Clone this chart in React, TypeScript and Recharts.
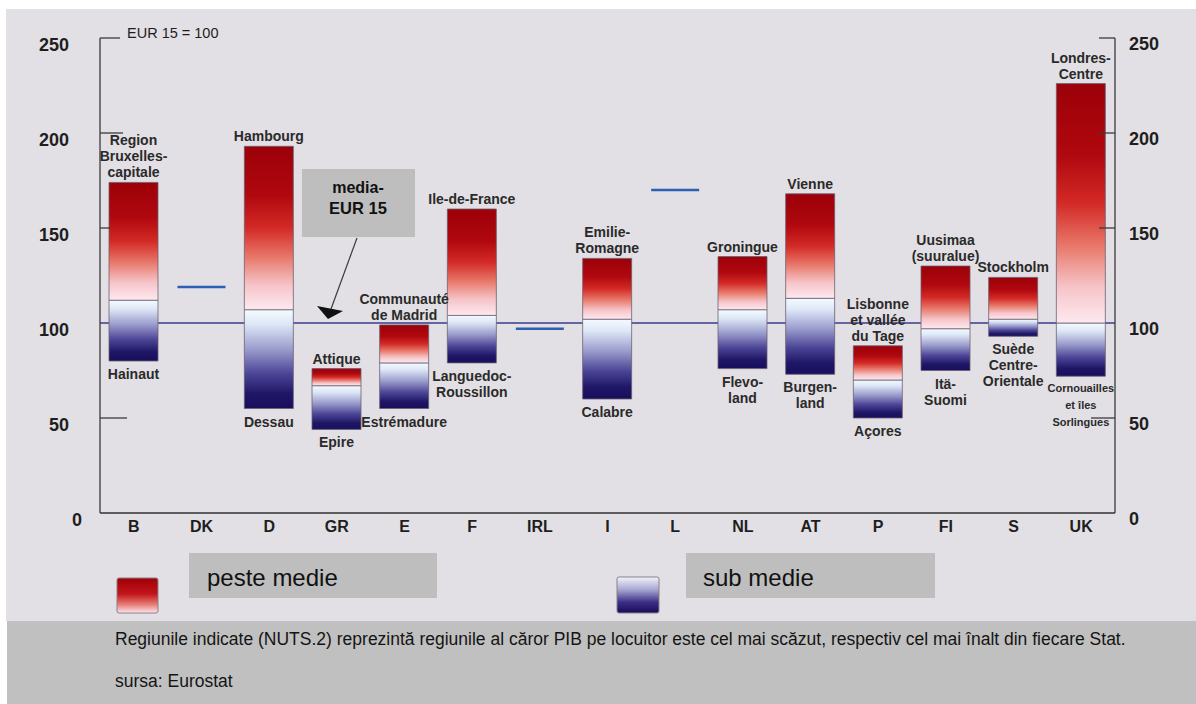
import React from 'react';
import { ComposedChart, Bar, XAxis, YAxis, ReferenceLine, Scatter, LabelList } from 'recharts';

// PIB pe locuitor, EUR 15 = 100
const countries = ['B', 'DK', 'D', 'GR', 'E', 'F', 'IRL', 'I', 'L', 'NL', 'AT', 'P', 'FI', 'S', 'UK'];
const highValues: (number | null)[] = [174, null, 193, 76, 99, 160, null, 134, null, 135, 168, 88, 130, 124, 226];
const nationalValues = [112, 119, 107, 67, 79, 104, 97, 102, 170, 107, 113, 70, 97, 102, 100];
const lowValues: (number | null)[] = [80, null, 55, 44, 55, 79, null, 60, null, 76, 73, 50, 75, 93, 72];
const highRegions = [
  'Region\nBruxelles-\ncapitale', '', 'Hambourg', 'Attique', 'Communauté\nde Madrid', 'Ile-de-France', '',
  'Emilie-\nRomagne', '', 'Groningue', 'Vienne', 'Lisbonne\net vallée\ndu Tage', 'Uusimaa\n(suuralue)',
  'Stockholm', 'Londres-\nCentre',
];
const lowRegions = [
  'Hainaut', '', 'Dessau', 'Epire', 'Estrémadure', 'Languedoc-\nRoussillon', '', 'Calabre', '',
  'Flevo-\nland', 'Burgen-\nland', 'Açores', 'Itä-\nSuomi', 'Suède\nCentre-\nOrientale',
  'Cornouailles\net îles\nSorlingues',
];
const yTicks = [0, 50, 100, 150, 200, 250];

const rows = countries.map((country, i) => {
  const hi = highValues[i];
  const lo = lowValues[i];
  const mid = nationalValues[i];
  const split = hi != null && lo != null;
  return {
    country,
    base: split ? lo : 0,
    below: split ? mid - (lo as number) : 0,
    above: split ? (hi as number) - mid : 0,
    single: split ? null : mid,
    hiName: highRegions[i],
    loName: lowRegions[i],
  };
});

const FONT = '"Liberation Sans", Arial, Helvetica, sans-serif';
const leftTickLen: Record<number, number> = { 250: 20, 200: 23, 150: 10, 50: 27 };
const rightTickLen: Record<number, number> = { 250: 16, 200: 16, 150: 16, 50: 24 };

const LeftTick = (props: any) => {
  const { x, y, payload } = props;
  const len = leftTickLen[payload.value] || 0;
  const gap = payload.value === 0 ? 18 : 31;
  return (
    <g>
      {len > 0 && <line x1={x} x2={x + len} y1={y} y2={y} stroke="#3a3a3a" strokeWidth={1.3} />}
      <text x={x - gap} y={y + 13} textAnchor="end" fontSize={18} fontWeight="bold" fill="#1e1e1e" fontFamily={FONT}>
        {payload.value}
      </text>
    </g>
  );
};

const RightTick = (props: any) => {
  const { x, y, payload } = props;
  const len = rightTickLen[payload.value] || 0;
  return (
    <g>
      {len > 0 && <line x1={x} x2={x - len} y1={y} y2={y} stroke="#3a3a3a" strokeWidth={1.3} />}
      <text x={x + 14} y={y + 12} textAnchor="start" fontSize={18} fontWeight="bold" fill="#1e1e1e" fontFamily={FONT}>
        {payload.value}
      </text>
    </g>
  );
};

const CountryTick = (props: any) => {
  const { x, y, payload } = props;
  return (
    <text x={x} y={y + 17} textAnchor="middle" fontSize={16} fontWeight="bold" fill="#1e1e1e" fontFamily={FONT}>
      {payload.value}
    </text>
  );
};

const readBox = (props: any) => {
  const vb = props.viewBox && props.viewBox.width != null ? props.viewBox : props;
  return { x: Number(vb.x), y: Number(vb.y), width: Number(vb.width), height: Number(vb.height) };
};

const TopLabel = (props: any) => {
  const { value } = props;
  if (!value) return null;
  const { x, y, width } = readBox(props);
  const lines = String(value).split('\n');
  const cx = x + width / 2;
  return (
    <text textAnchor="middle" fontSize={14} fontWeight="bold" fill="#2a2a2a" fontFamily={FONT}>
      {lines.map((l, i) => (
        <tspan key={i} x={cx} y={y - 5 - (lines.length - 1 - i) * 16}>
          {l}
        </tspan>
      ))}
    </text>
  );
};

const BottomLabel = (props: any) => {
  const { value } = props;
  if (!value) return null;
  const { x, y, width, height } = readBox(props);
  const lines = String(value).split('\n');
  const small = String(value).startsWith('Cornouailles');
  const cx = x + width / 2;
  const bottom = y + height;
  return (
    <text textAnchor="middle" fontSize={small ? 11 : 14} fontWeight="bold" fill="#2a2a2a" fontFamily={FONT}>
      {lines.map((l, i) => (
        <tspan key={i} x={cx} y={bottom + (small ? 16 : 18) + i * (small ? 17 : 16)}>
          {l}
        </tspan>
      ))}
    </text>
  );
};

const Dash = (props: any) => {
  const { cx, cy, payload } = props;
  if (!payload || payload.single == null || !Number.isFinite(cx) || !Number.isFinite(cy)) return null;
  return <line x1={cx - 24} x2={cx + 24} y1={cy} y2={cy} stroke="#2f5fb4" strokeWidth={2.5} />;
};

export default function App() {
  return (
    <div style={{ position: 'absolute', left: 0, top: 0, width: 1196, height: 704, background: '#ffffff', overflow: 'hidden' }}>
      <div style={{ position: 'absolute', left: 6, top: 9, width: 1190, height: 612, background: '#e2e0e4' }} />
      <div style={{ position: 'absolute', left: 0, top: 0 }}>
        <ComposedChart width={1196} height={621} data={rows} margin={{ top: 38, right: 0, bottom: 78, left: 0 }}>
          <defs>
            <linearGradient id="aboveFill" x1="0" y1="0" x2="0" y2="1">
              <stop offset="0%" stopColor="#9c0008" />
              <stop offset="30%" stopColor="#b0080f" />
              <stop offset="50%" stopColor="#d32a26" />
              <stop offset="68%" stopColor="#e8786a" />
              <stop offset="85%" stopColor="#f6c4c8" />
              <stop offset="100%" stopColor="#fde9f0" />
            </linearGradient>
            <linearGradient id="belowFill" x1="0" y1="0" x2="0" y2="1">
              <stop offset="0%" stopColor="#f4fbff" />
              <stop offset="15%" stopColor="#dde6f6" />
              <stop offset="40%" stopColor="#9a9ccc" />
              <stop offset="65%" stopColor="#4c4496" />
              <stop offset="85%" stopColor="#1f1766" />
              <stop offset="100%" stopColor="#170f5c" />
            </linearGradient>
          </defs>
          <XAxis
            dataKey="country"
            height={30}
            tick={<CountryTick />}
            tickLine={false}
            tickSize={0}
            axisLine={{ stroke: '#333333', strokeWidth: 1.5 }}
            interval={0}
          />
          <YAxis
            yAxisId="left"
            width={100}
            domain={[0, 250]}
            ticks={yTicks}
            tick={<LeftTick />}
            tickLine={false}
            tickSize={0}
            tickMargin={0}
            axisLine={{ stroke: '#3a3a3a', strokeWidth: 1.3 }}
          />
          <YAxis
            yAxisId="right"
            orientation="right"
            width={81}
            domain={[0, 250]}
            ticks={yTicks}
            tick={<RightTick />}
            tickLine={false}
            tickSize={0}
            tickMargin={0}
            axisLine={{ stroke: '#3a3a3a', strokeWidth: 1.3 }}
          />
          <ReferenceLine yAxisId="left" y={100} stroke="#3b3b8e" strokeWidth={1.5} zIndex={250} />
          <Bar yAxisId="left" dataKey="base" stackId="range" fill="transparent" barSize={49} isAnimationActive={false} />
          <Bar
            yAxisId="left"
            dataKey="below"
            stackId="range"
            fill="url(#belowFill)"
            stroke="#6a5f72"
            strokeWidth={0.8}
            barSize={49}
            isAnimationActive={false}
          >
            <LabelList dataKey="loName" content={<BottomLabel />} />
          </Bar>
          <Bar
            yAxisId="left"
            dataKey="above"
            stackId="range"
            fill="url(#aboveFill)"
            stroke="#6a5f72"
            strokeWidth={0.8}
            barSize={49}
            isAnimationActive={false}
          >
            <LabelList dataKey="hiName" content={<TopLabel />} />
          </Bar>
          <Scatter yAxisId="right" dataKey="single" shape={<Dash />} isAnimationActive={false} />
        </ComposedChart>
      </div>
      <svg
        width={1196}
        height={704}
        style={{ position: 'absolute', left: 0, top: 0, pointerEvents: 'none' }}
        fontFamily={FONT}
      >
        <defs>
          <linearGradient id="legendAbove" x1="0" y1="0" x2="0" y2="1">
            <stop offset="0%" stopColor="#a00008" />
            <stop offset="45%" stopColor="#c0141a" />
            <stop offset="75%" stopColor="#e67a72" />
            <stop offset="100%" stopColor="#fde6ee" />
          </linearGradient>
          <linearGradient id="legendBelow" x1="0" y1="0" x2="0" y2="1">
            <stop offset="0%" stopColor="#f2f4fc" />
            <stop offset="35%" stopColor="#a8a6d2" />
            <stop offset="70%" stopColor="#3c2e86" />
            <stop offset="100%" stopColor="#170c58" />
          </linearGradient>
        </defs>
        <text x={127} y={38} fontSize={14.5} fill="#1e1e1e">EUR 15 = 100</text>

        <rect x={302} y={169} width={113} height={68} fill="#bebebe" />
        <text x={358} y={193} textAnchor="middle" fontSize={16} fontWeight="bold" fill="#111">media-</text>
        <text x={358} y={214} textAnchor="middle" fontSize={16.5} fontWeight="bold" fill="#111">EUR 15</text>
        <line x1={357} y1={238} x2={331} y2={309} stroke="#3a3a3a" strokeWidth={1.2} />
        <polygon points="317,306 343,311 328,319" fill="#111" />

        <rect x={117} y={578} width={41} height={35} rx={2} fill="url(#legendAbove)" stroke="#8a8088" strokeWidth={1} />
        <rect x={189} y={553} width={248} height={45} fill="#bebebe" />
        <text x={207} y={586} fontSize={24} fill="#111">peste medie</text>

        <rect x={617} y={577} width={42} height={36} rx={2} fill="url(#legendBelow)" stroke="#8a8088" strokeWidth={1} />
        <rect x={686} y={553} width={249} height={45} fill="#bebebe" />
        <text x={703} y={586} fontSize={24} fill="#111">sub medie</text>

        <rect x={7} y={621} width={1189} height={83} fill="#c0c0c0" />
        <text x={115} y={645} fontSize={17.5} fill="#141414">
          Regiunile indicate (NUTS.2) reprezintă regiunile al căror PIB pe locuitor este cel mai scăzut, respectiv cel mai înalt din fiecare Stat.
        </text>
        <text x={115} y={687} fontSize={17.5} fill="#141414">sursa: Eurostat</text>
      </svg>
    </div>
  );
}
